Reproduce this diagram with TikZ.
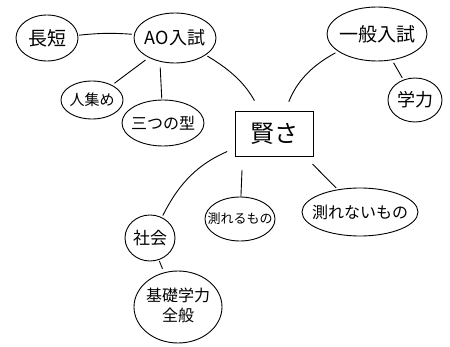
\documentclass[tikz,border=0pt]{standalone}
\usepackage{fontspec}
\newfontfamily\jp{Noto Sans CJK JP}
\usetikzlibrary{shapes.geometric}
\newcommand{\jfs}[1]{\jp\fontsize{#1}{#1}\selectfont}
\newcommand{\zw}[1]{\makebox[0pt][c]{#1}}
\begin{document}
\begin{tikzpicture}[x=1pt,y=-1pt,
  idea/.style={draw,ellipse,line width=0.9pt,inner sep=0pt},
  link/.style={line width=0.9pt}]
\useasboundingbox (0,0) rectangle (450,347);
\node[idea,minimum width=62,minimum height=46] (chotan) at (47,38) {\zw{\jfs{19}長短}};
\node[idea,minimum width=82,minimum height=50] (ao) at (175,38) {\zw{\jfs{18}AO入試}};
\node[idea,minimum width=62,minimum height=38] (hito) at (92,100) {\zw{\jfs{15}人集め}};
\node[idea,minimum width=82,minimum height=46] (mitsu) at (163,123) {\zw{\jfs{16}三つの型}};
\node[idea,minimum width=100,minimum height=54] (ippan) at (377,34) {\zw{\jfs{19}一般入試}};
\node[idea,minimum width=54,minimum height=44] (gaku) at (415,100) {\zw{\jfs{18}学力}};
\node[draw,line width=0.9pt,minimum width=78,minimum height=45,font=\jfs{24}] (kash) at (274,134) {賢さ};
\node[idea,minimum width=50,minimum height=46] (shakai) at (150,238) {\zw{\jfs{17}社会}};
\node[idea,minimum width=88,minimum height=72] (kiso) at (178,307) {\zw{\jfs{16}\begin{tabular}{@{}l@{}}基礎学力\\[2pt]\quad 全般\end{tabular}}};
\node[idea,minimum width=70,minimum height=44] (hakareru) at (240,219) {\zw{\jfs{13}測れるもの}};
\node[idea,minimum width=116,minimum height=48] (hakarenai) at (360,212) {\zw{\jfs{16}測れないもの}};
\draw[link,shorten <=1,shorten >=2] (chotan) to[bend left=5] (ao);
\draw[link,shorten <=4,shorten >=3] (ao) -- (hito);
\draw[link,shorten <=4,shorten >=1] (ao.south) ++(-15,0) coordinate (aos) (aos) -- (mitsu);
\draw[link,shorten <=2,shorten >=12] (ao) to[bend left=15] (kash);
\draw[link,shorten <=10,shorten >=3] (kash) to[bend left=20] (ippan);
\draw[link,shorten <=3,shorten >=2] (ippan) -- (gaku);
\draw[link,shorten <=8,shorten >=2] (kash) to[bend right=20] (shakai);
\draw[link,shorten <=13,shorten >=0] (kash.south west) ++(8,0) coordinate (ks) (ks) -- (hakareru);
\draw[link,shorten <=10,shorten >=2] (kash.south east) ++(-8,0) coordinate (ke) (ke) -- (hakarenai);
\draw[link,shorten <=1,shorten >=4] (shakai) -- (kiso);
\end{tikzpicture}
\end{document}
